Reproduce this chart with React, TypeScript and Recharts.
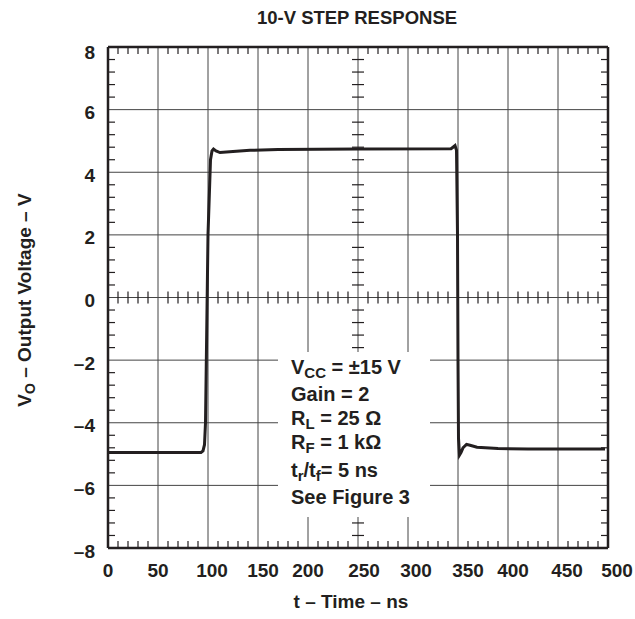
import React from "react";
import {
  LineChart,
  Line,
  XAxis,
  YAxis,
  CartesianGrid,
  ReferenceLine,
  ReferenceArea,
} from "recharts";

// ---- data ----
const times = [
  0, 30, 60, 90, 93, 95, 96.5, 97.5, 100, 102.5, 104, 105.5, 108, 112, 125, 142, 170, 250,
  343, 345, 347, 348.5, 349.5, 350, 350.5, 351.5, 353, 355, 358.5, 362, 369, 390, 420, 497,
];
const volts = [
  -4.95, -4.95, -4.95, -4.95, -4.95, -4.9, -4.7, -4.0, 2.0, 4.4, 4.68, 4.74, 4.68, 4.63, 4.66, 4.7, 4.73, 4.74,
  4.75, 4.8, 4.85, 4.7, 2.0, -2.0, -4.5, -5.03, -4.95, -4.8, -4.69, -4.72, -4.78, -4.82, -4.84, -4.84,
];

const xTicks = [0, 50, 100, 150, 200, 250, 300, 350, 400, 450, 500];
const yTicks = [-8, -6, -4, -2, 0, 2, 4, 6, 8];
const minorX = [
  10, 20, 30, 40, 60, 70, 80, 90, 110, 120, 130, 140, 160, 170, 180, 190, 210, 220, 230, 240,
  260, 270, 280, 290, 310, 320, 330, 340, 360, 370, 380, 390, 410, 420, 430, 440, 460, 470, 480, 490,
];
const minorY = [
  -7.6, -7.2, -6.8, -6.4, -5.6, -5.2, -4.8, -4.4, -3.6, -3.2, -2.8, -2.4, -1.6, -1.2, -0.8, -0.4,
  0.4, 0.8, 1.2, 1.6, 2.4, 2.8, 3.2, 3.6, 4.4, 4.8, 5.2, 5.6, 6.4, 6.8, 7.2, 7.6,
];
const xLabelShift = [0, 0, 4, 5, 0, 6, 8, 10, 5, 9, 9];

// annotation box (data units) that hides the grid
const box = { x1: 170, x2: 322, y1: -7.01, y2: -1.74 };

const data = times.map((t, i) => ({ t, v: volts[i] }));

const FONT = "'Liberation Sans', Arial, Helvetica, sans-serif";
const INK = "#231f20";
const GRID = "#444";

const XTick = (props: any) => {
  const { x, y, payload, index } = props;
  const dx = xLabelShift[index] ?? 0;
  return (
    <text
      x={x + dx}
      y={y + 27}
      textAnchor="middle"
      fontFamily={FONT}
      fontWeight="bold"
      fontSize={19}
      fill={INK}
    >
      {String(payload.value)}
    </text>
  );
};

const YTick = (props: any) => {
  const { x, y, payload } = props;
  const v = payload.value as number;
  const label = v < 0 ? "\u2013" + Math.abs(v) : String(v);
  return (
    <text
      x={x - 11}
      y={Math.max(y + 2.5, 52) + 7}
      textAnchor="end"
      fontFamily={FONT}
      fontWeight="bold"
      fontSize={19}
      fill={INK}
    >
      {label}
    </text>
  );
};

const TK = 7 * (16 / 501); // 7 px in volts
const TKX = 7; // 7 px in ns
const CY = 6 * (16 / 501);
const CX = 6;

const inBox = (y: number) => y > box.y1 - 0.05 && y < box.y2 + 0.05;

export default function App() {
  const lines: React.ReactNode[] = [];
  minorX.forEach((x) => {
    lines.push(
      <ReferenceLine key={"tt" + x} segment={[{ x, y: 8 }, { x, y: 8 - TK }]} stroke={INK} strokeWidth={1.2} ifOverflow="visible" />
    );
    lines.push(
      <ReferenceLine key={"tb" + x} segment={[{ x, y: -8 }, { x, y: -8 + TK }]} stroke={INK} strokeWidth={1.2} ifOverflow="visible" />
    );
    lines.push(
      <ReferenceLine key={"tc" + x} segment={[{ x, y: -CY }, { x, y: CY }]} stroke={INK} strokeWidth={1.2} ifOverflow="visible" />
    );
  });
  minorY.forEach((y) => {
    lines.push(
      <ReferenceLine key={"tl" + y} segment={[{ x: 0, y }, { x: TKX, y }]} stroke={INK} strokeWidth={1.2} ifOverflow="visible" />
    );
    lines.push(
      <ReferenceLine key={"tr" + y} segment={[{ x: 500, y }, { x: 500 - TKX, y }]} stroke={INK} strokeWidth={1.2} ifOverflow="visible" />
    );
    if (!inBox(y)) {
      lines.push(
        <ReferenceLine key={"tcy" + y} segment={[{ x: 250 - CX, y }, { x: 250 + CX, y }]} stroke={INK} strokeWidth={1.2} ifOverflow="visible" />
      );
    }
  });

  const anno = { fontFamily: FONT, fontWeight: "bold" as const, fontSize: 20, fill: INK };

  return (
    <div style={{ position: "absolute", left: 0, top: 0, width: 635, height: 619, background: "#fff" }}>
      <LineChart
        width={635}
        height={619}
        data={data}
        margin={{ top: 47, right: 27, bottom: 41, left: 48 }}
      >
        <CartesianGrid stroke={GRID} strokeWidth={1} horizontalValues={yTicks} verticalValues={xTicks} />
        <ReferenceArea x1={box.x1} x2={box.x2} y1={box.y1} y2={box.y2} fill="#fff" fillOpacity={1} stroke="none" ifOverflow="visible" />
        <XAxis
          dataKey="t"
          type="number"
          domain={[0, 500]}
          ticks={xTicks}
          interval={0}
          height={30}
          axisLine={false}
          tickLine={false}
          tickSize={0}
          tick={<XTick />}
        />
        <YAxis
          type="number"
          domain={[-8, 8]}
          ticks={yTicks}
          interval={0}
          width={60}
          axisLine={false}
          tickLine={false}
          tickSize={0}
          tick={<YTick />}
        />
        {lines}
        <ReferenceLine y={8} stroke={INK} strokeWidth={2.5} ifOverflow="visible" />
        <ReferenceLine y={-8} stroke={INK} strokeWidth={2.5} ifOverflow="visible" />
        <ReferenceLine x={0} stroke={INK} strokeWidth={2.5} ifOverflow="visible" />
        <ReferenceLine x={500} stroke={INK} strokeWidth={2.5} ifOverflow="visible" />
        <Line
          type="linear"
          dataKey="v"
          stroke={INK}
          strokeWidth={3}
          dot={false}
          isAnimationActive={false}
        />
      </LineChart>
      <svg
        width={635}
        height={619}
        style={{ position: "absolute", left: 0, top: 0, pointerEvents: "none" }}
      >
        <text x={357} y={24} textAnchor="middle" fontFamily={FONT} fontWeight="bold" fontSize={18.5} fill={INK}>
          10-V STEP RESPONSE
        </text>
        <text x={351} y={608} textAnchor="middle" fontFamily={FONT} fontWeight="bold" fontSize={19} fill={INK}>
          t – Time – ns
        </text>
        <text
          transform="translate(31,300) rotate(-90)"
          textAnchor="middle"
          fontFamily={FONT}
          fontWeight="bold"
          fontSize={19}
          fill={INK}
        >
          V<tspan fontSize={14} dy={4}>O</tspan>
          <tspan dy={-4}> – Output Voltage – V</tspan>
        </text>
        <text x={291} y={374} {...anno}>
          V<tspan fontSize={15} dy={4}>CC</tspan>
          <tspan dy={-4}> = ±15 V</tspan>
        </text>
        <text x={291} y={401} {...anno}>Gain = 2</text>
        <text x={291} y={425} {...anno}>
          R<tspan fontSize={15} dy={4}>L</tspan>
          <tspan dy={-4}> = 25 Ω</tspan>
        </text>
        <text x={291} y={449} {...anno}>
          R<tspan fontSize={15} dy={4}>F</tspan>
          <tspan dy={-4}> = 1 kΩ</tspan>
        </text>
        <text x={291} y={477} {...anno}>
          t<tspan fontSize={15} dy={4}>r</tspan>
          <tspan dy={-4}>/t</tspan>
          <tspan fontSize={15} dy={4}>f</tspan>
          <tspan dy={-4}>= 5 ns</tspan>
        </text>
        <text x={291} y={504} {...anno}>See Figure 3</text>
      </svg>
    </div>
  );
}
